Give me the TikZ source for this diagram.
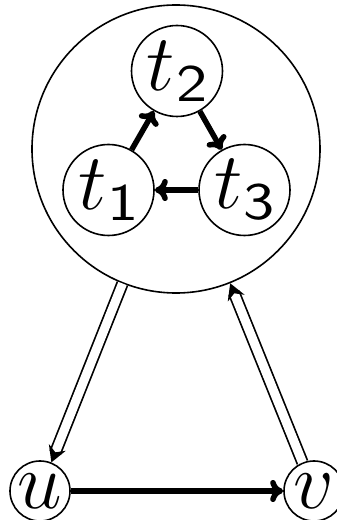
\RequirePackage{fix-cm}
\documentclass[tikz,border=0pt]{standalone}
\usepackage{graphicx}
\usetikzlibrary{arrows.meta}
\newcommand\tsub[1]{$t$\kern1pt\raisebox{-11pt}{\fontsize{53}{53}\selectfont\sffamily\scalebox{1.25}[1]{#1}}}
\begin{document}
\begin{tikzpicture}[x=1pt,y=1pt,
  circ/.style={circle,draw,line width=1.6pt,inner sep=0pt},
  lbl/.style={font=\fontsize{80}{82}\selectfont},
  tnode/.style={circ,lbl,minimum size=91pt},
  vnode/.style={circ,lbl,minimum size=60pt},
  arr/.style={line width=5.5pt,-{Computer Modern Rightarrow[length=13pt,width=22pt]}},
  dbl/.style={double,double distance=9pt,line width=1.7pt,-{Stealth[length=16pt,width=18pt]}}]
\useasboundingbox (0,0) rectangle (337,520);
\node[circ,minimum size=288pt] (big) at (176,371) {};
\node[tnode] (t2) at (177,449) {\tsub{2}};
\node[tnode] (t1) at (108.5,330) {\tsub{1}};
\node[tnode] (t3) at (244.5,330) {\tsub{3}};
\node[vnode] (u) at (40,29) {$u$};
\node[vnode] (v) at (314,29) {$v$};
\draw[arr] (t1) -- (t2);
\draw[arr] (t2) -- (t3);
\draw[arr] (t3) -- (t1);
\draw[arr] (u) -- (v);
\draw[dbl] (big) -- (u);
\draw[dbl] (v) -- (big);
\end{tikzpicture}
\end{document}
